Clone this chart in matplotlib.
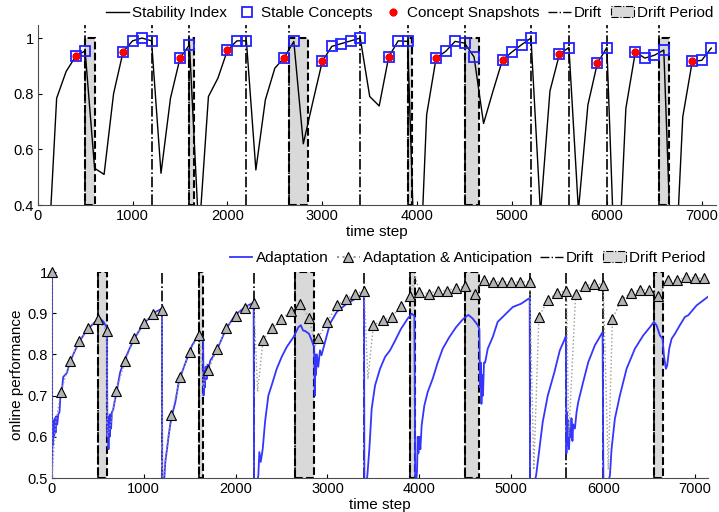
import numpy as np
import matplotlib
matplotlib.use('Agg')
import matplotlib.pyplot as plt
from matplotlib.patches import Rectangle, Patch
from matplotlib.lines import Line2D
from matplotlib.ticker import FormatStrFormatter

plt.rcParams['font.family'] = ['Liberation Sans', 'DejaVu Sans']

# drifts shared by both panels
drift_times = [500, 1200, 1600, 2200, 2650, 3400, 3900, 4500, 5200, 5600, 6000, 6550]
drift_periods = [(500, 600), (1600, 1650), (2650, 2850), (3900, 3950), (4500, 4650), (6550, 6650)]

# top panel: stability index every 100 steps
stab_t = list(range(100, 7200, 100))
stab_val = [0.14, 0.784, 0.88, 0.934, 0.954, 0.532, 0.51, 0.80, 0.95, 0.99,
            1.0, 0.99, 0.514, 0.784, 0.927, 0.976, 0.29, 0.79, 0.856, 0.956,
            0.99, 0.99, 0.526, 0.778, 0.892, 0.93, 0.988, 0.62, 0.77, 0.916,
            0.97, 0.98, 0.99, 1.0, 0.79, 0.756, 0.932, 0.99, 0.988, -0.1,
            0.724, 0.928, 0.952, 0.988, 0.982, 0.932, 0.693, 0.81, 0.922, 0.95,
            0.976, 1.0, 0.37, 0.81, 0.942, 0.966, 0.38, 0.76, 0.91, 0.966,
            0.01, 0.747, 0.95, 0.928, 0.938, 0.957, 0.0, 0.717, 0.916, 0.92,
            0.964]
stable_t = [400, 500, 900, 1000, 1100, 1200, 1500, 1600, 2000, 2100, 2200,
            2600, 2700, 3000, 3100, 3200, 3300, 3400, 3700, 3800, 3900, 4200,
            4300, 4400, 4500, 4600, 4900, 5000, 5100, 5200, 5500, 5600, 5900,
            6000, 6300, 6400, 6500, 6600, 6900, 7000, 7100]
snapshot_t = [400, 900, 1500, 2000, 2600, 3000, 3700, 4200, 4900, 5500, 5900, 6300, 6900]

# bottom panel: online performance
adapt_t = [0, 3, 8, 14, 20, 27, 34, 42, 50, 60, 72, 85, 95, 110, 125, 145, 165, 190,
           207, 255, 309, 364, 418, 473, 520, 564, 600, 606, 612, 618, 624, 630, 638,
           646, 655, 668, 680, 709, 745, 800, 855, 909, 964, 1018, 1073, 1127, 1200,
           1203, 1225, 1236, 1255, 1273, 1290, 1309, 1345, 1382, 1418, 1473, 1527,
           1582, 1611, 1647, 1652, 1660, 1667, 1675, 1685, 1695, 1710, 1727, 1764,
           1800, 1897, 1995, 2103, 2197, 2202, 2248, 2259, 2274, 2296, 2321, 2357,
           2393, 2448, 2502, 2557, 2630, 2684, 2710, 2735, 2756, 2800, 2829, 2847,
           2855, 2862, 2868, 2875, 2885, 2900, 2919, 2935, 2974, 3028, 3101, 3209,
           3318, 3398, 3402, 3434, 3456, 3481, 3518, 3572, 3627, 3681, 3728, 3800,
           3873, 3917, 3946, 3956, 3975, 3982, 3989, 4000, 4011, 4025, 4054, 4091,
           4145, 4199, 4254, 4326, 4399, 4472, 4533, 4580, 4635, 4653, 4660, 4668,
           4675, 4683, 4692, 4703, 4715, 4744, 4798, 4852, 4925, 5016, 5106, 5200,
           5204, 5270, 5306, 5342, 5397, 5469, 5528, 5583, 5594, 5600, 5606, 5612,
           5620, 5628, 5637, 5645, 5655, 5665, 5674, 5692, 5710, 5728, 5782, 5837,
           5909, 5993, 6003, 6073, 6091, 6127, 6181, 6254, 6345, 6435, 6508, 6551,
           6580, 6617, 6646, 6660, 6682, 6696, 6718, 6744, 6780, 6834, 6889, 6925,
           7016, 7140]
adapt_val = [1.0, 0.48, 0.62, 0.58, 0.64, 0.60, 0.645, 0.61, 0.65, 0.63, 0.655, 0.66,
             0.70, 0.71, 0.745, 0.75, 0.755, 0.775, 0.786, 0.81, 0.834, 0.853, 0.867,
             0.879, 0.889, 0.879, 0.865, 0.60, 0.65, 0.57, 0.64, 0.60, 0.655, 0.62,
             0.66, 0.665, 0.68, 0.713, 0.757, 0.79, 0.818, 0.842, 0.862, 0.879, 0.89,
             0.903, 0.911, 0.45, 0.50, 0.539, 0.571, 0.604, 0.63, 0.652, 0.684, 0.733,
             0.757, 0.79, 0.822, 0.842, 0.85, 0.842, 0.70, 0.76, 0.72, 0.77, 0.74,
             0.775, 0.77, 0.786, 0.798, 0.812, 0.862, 0.895, 0.915, 0.926, 0.45,
             0.506, 0.563, 0.539, 0.571, 0.636, 0.70, 0.725, 0.765, 0.794, 0.818,
             0.842, 0.866, 0.871, 0.858, 0.857, 0.85, 0.834, 0.822, 0.82, 0.70, 0.80,
             0.75, 0.80, 0.77, 0.81, 0.798, 0.83, 0.875, 0.903, 0.923, 0.937, 0.945,
             0.45, 0.506, 0.571, 0.668, 0.725, 0.765, 0.794, 0.81, 0.83, 0.862,
             0.887, 0.899, 0.893, 0.45, 0.52, 0.60, 0.56, 0.60, 0.57, 0.628, 0.676,
             0.709, 0.741, 0.78, 0.814, 0.842, 0.866, 0.885, 0.896, 0.887, 0.871,
             0.862, 0.72, 0.78, 0.68, 0.75, 0.70, 0.78, 0.78, 0.814, 0.842, 0.879,
             0.895, 0.915, 0.923, 0.937, 0.45, 0.506, 0.571, 0.636, 0.70, 0.757,
             0.81, 0.838, 0.845, 0.56, 0.66, 0.58, 0.64, 0.57, 0.62, 0.60, 0.645,
             0.59, 0.63, 0.62, 0.66, 0.684, 0.733, 0.781, 0.822, 0.854, 0.45, 0.506,
             0.571, 0.644, 0.70, 0.765, 0.814, 0.846, 0.866, 0.879, 0.871, 0.846,
             0.838, 0.798, 0.765, 0.773, 0.814, 0.838, 0.85, 0.871, 0.891, 0.895,
             0.919, 0.94]

antic_t = list(range(0, 7200, 100))
antic_val = [1.0, 0.709, 0.784, 0.833, 0.864, 0.886, 0.857, 0.711, 0.784, 0.84,
             0.877, 0.897, 0.909, 0.652, 0.744, 0.807, 0.848, 0.761, 0.814, 0.864,
             0.894, 0.913, 0.925, 0.836, 0.864, 0.885, 0.905, 0.922, 0.889, 0.84,
             0.879, 0.919, 0.934, 0.947, 0.954, 0.871, 0.883, 0.891, 0.917, 0.941,
             0.951, 0.947, 0.955, 0.955, 0.961, 0.966, 0.946, 0.981, 0.976, 0.976,
             0.976, 0.976, 0.976, 0.891, 0.933, 0.95, 0.954, 0.947, 0.965, 0.972,
             0.969, 0.887, 0.933, 0.949, 0.957, 0.957, 0.943, 0.98, 0.98, 0.988,
             0.985, 0.985]
# in-between points of the dotted curve (dips right after drifts)
dip_t = [4, 40, 606, 650, 1203, 1250, 1652, 1680, 2240, 2870, 3440, 3955, 5245, 5625, 6055]
dip_val = [0.5, 0.63, 0.6, 0.64, 0.47, 0.57, 0.72, 0.75, 0.71, 0.82, 0.74, 0.99, 0.52, 0.60, 0.52]


def draw_drifts(ax, ybottom):
    for a, b in drift_periods:
        ax.add_patch(Rectangle((a, ybottom), b - a, 1 - ybottom, facecolor='0.85',
                               edgecolor='k', linestyle='--', linewidth=1.5, zorder=1))
    for t in drift_times:
        ax.axvline(t, color='k', linestyle='-.', linewidth=1.2, zorder=2)


def style_axis(ax):
    for s in ['top', 'right']:
        ax.spines[s].set_visible(False)
    for s in ['left', 'bottom']:
        ax.spines[s].set_color('0.3')
    ax.tick_params(direction='in', length=3, width=0.8, labelsize=10.5, pad=3)
    ax.set_xticks(range(0, 8000, 1000))
    ax.yaxis.set_major_formatter(FormatStrFormatter('%g'))


fig = plt.figure(figsize=(7.19, 5.12), dpi=100)

# ---- top panel
ax1 = fig.add_axes([0.0524, 0.5996, 0.9434, 0.3516])
draw_drifts(ax1, 0.4)
ax1.plot(stab_t, stab_val, color='k', linewidth=1.0, zorder=3)
lookup = dict(zip(stab_t, stab_val))
ax1.plot(stable_t, [lookup[t] for t in stable_t], linestyle='none', marker='s', markersize=6.5,
         markerfacecolor='none', markeredgecolor='#2222ff', markeredgewidth=1.3, zorder=4)
ax1.plot(snapshot_t, [lookup[t] for t in snapshot_t], linestyle='none', marker=(8, 2, 0),
         markersize=5.5, markeredgecolor='red', markeredgewidth=1.8, color='red', zorder=5)
ax1.set_xlim(0, 7150)
ax1.set_ylim(0.4, 1.047)
ax1.set_yticks([0.4, 0.6, 0.8, 1.0])
ax1.set_xlabel('time step', fontsize=11, labelpad=1)
style_axis(ax1)

h1 = [Line2D([], [], color='k', linewidth=1.0),
      Line2D([], [], linestyle='none', marker='s', markersize=6.5, markerfacecolor='none',
             markeredgecolor='#2222ff', markeredgewidth=1.3),
      Line2D([], [], linestyle='none', marker=(8, 2, 0), markersize=5.5,
             markeredgecolor='red', markeredgewidth=1.8),
      Line2D([], [], color='k', linestyle='-.', linewidth=1.0),
      Patch(facecolor='0.85', edgecolor='k', linestyle='-.', linewidth=0.8)]
l1 = ['Stability Index', 'Stable Concepts', 'Concept Snapshots', 'Drift', 'Drift Period']
fig.legend(h1, l1, loc='center right', bbox_to_anchor=(713 / 719, 1 - 13 / 512), ncol=5,
           frameon=False, fontsize=11, handlelength=1.5, handletextpad=0.2,
           columnspacing=0.55, borderpad=0, borderaxespad=0)

# ---- bottom panel
ax2 = fig.add_axes([0.0719, 0.0664, 0.9128, 0.4023])
draw_drifts(ax2, 0.5)
ax2.plot(adapt_t, adapt_val, color='#3535ff', linewidth=1.3, zorder=3)
dot_t = np.array(antic_t + dip_t)
dot_v = np.array(antic_val + dip_val)
order = np.argsort(dot_t)
ax2.plot(dot_t[order], dot_v[order], color='0.6', linestyle=':', linewidth=1.0, zorder=4)
ax2.plot(antic_t, antic_val, linestyle='none', marker='^', markersize=6.5,
         markerfacecolor='0.7', markeredgecolor='k', markeredgewidth=0.8, zorder=5,
         clip_on=False)
ax2.set_xlim(0, 7140)
ax2.set_ylim(0.5, 1.0)
ax2.set_yticks([0.5, 0.6, 0.7, 0.8, 0.9, 1.0])
ax2.set_xlabel('time step', fontsize=11, labelpad=1)
ax2.set_ylabel('online performance', fontsize=11, labelpad=2)
style_axis(ax2)

h2 = [Line2D([], [], color='#3535ff', linewidth=1.3),
      Line2D([], [], color='0.6', linestyle=':', marker='^', markersize=6.5,
             markerfacecolor='0.7', markeredgecolor='k', markeredgewidth=0.8),
      Line2D([], [], color='k', linestyle='-.', linewidth=1.0),
      Patch(facecolor='0.85', edgecolor='k', linestyle='-.', linewidth=0.8)]
l2 = ['Adaptation', 'Adaptation & Anticipation', 'Drift', 'Drift Period']
fig.legend(h2, l2, loc='center right', bbox_to_anchor=(705 / 719, 1 - 258 / 512), ncol=4,
           frameon=False, fontsize=11, handlelength=1.5, handletextpad=0.2,
           columnspacing=0.55, borderpad=0, borderaxespad=0)

fig.savefig('out.png', dpi=100)
